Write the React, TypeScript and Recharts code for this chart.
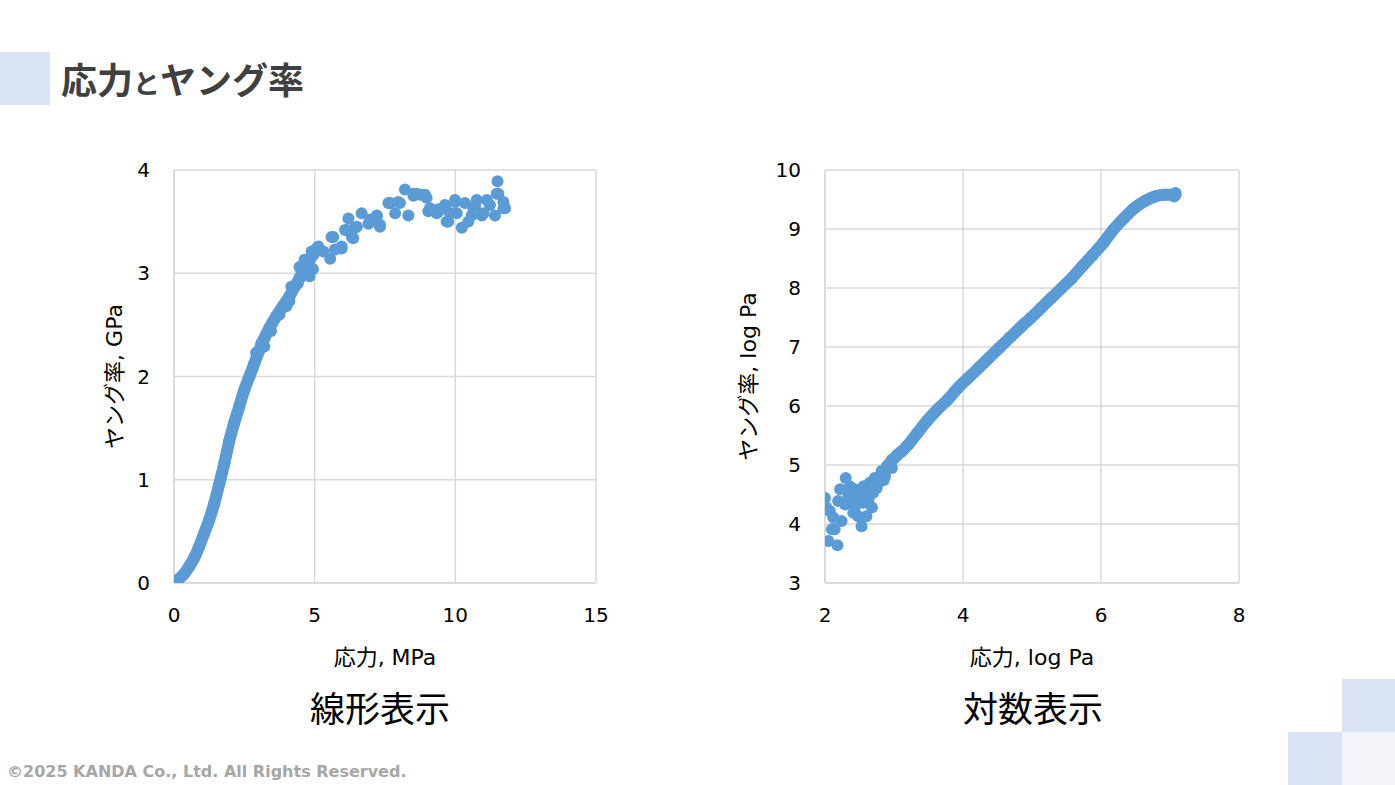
import { ScatterChart, Scatter, XAxis, YAxis, CartesianGrid } from 'recharts'

// values
const linearCurve: [number, number][] = [
  [0, 0], [0.18, 0.04], [0.36, 0.09], [0.54, 0.16], [0.71, 0.24], [0.89, 0.35],
  [1.07, 0.48], [1.25, 0.61], [1.43, 0.77], [1.61, 0.96], [1.79, 1.16], [1.96, 1.37],
  [2.14, 1.55], [2.32, 1.71], [2.5, 1.87], [2.68, 2.0], [2.86, 2.13], [3.04, 2.26],
  [3.21, 2.37], [3.39, 2.47], [3.63, 2.58], [3.87, 2.68], [4.11, 2.78], [4.29, 2.87],
  [4.46, 2.95], [4.64, 3.05], [4.82, 3.13], [5.0, 3.2],
]

const linearScatter: [number, number][] = [
  [2.92, 2.23], [3.1, 2.32], [3.21, 2.29], [3.45, 2.44], [3.75, 2.6], [3.99, 2.68],
  [4.1, 2.73], [4.17, 2.87], [4.4, 2.9], [4.46, 3.06], [4.64, 3.13], [4.82, 2.97],
  [4.94, 3.04], [4.66, 3.13], [4.77, 3.03], [4.89, 3.21], [5.07, 3.24], [5.13, 3.26],
  [5.31, 3.21], [5.55, 3.14], [5.6, 3.35], [5.66, 3.35], [5.72, 3.23], [5.96, 3.24],
  [5.96, 3.26], [6.08, 3.42], [6.14, 3.42], [6.2, 3.53], [6.32, 3.35], [6.37, 3.34],
  [6.43, 3.44], [6.5, 3.45], [6.67, 3.58], [6.91, 3.48], [6.97, 3.52], [7.21, 3.55],
  [7.21, 3.56], [7.32, 3.45], [7.32, 3.47], [7.62, 3.68], [7.68, 3.68], [7.86, 3.58],
  [7.97, 3.69], [8.03, 3.68], [8.21, 3.81], [8.33, 3.56], [8.51, 3.75], [8.51, 3.77],
  [8.63, 3.77], [8.75, 3.76], [8.92, 3.76], [8.98, 3.73], [9.04, 3.6], [9.1, 3.63],
  [9.34, 3.58], [9.4, 3.6], [9.4, 3.62], [9.63, 3.66], [9.63, 3.63], [9.69, 3.5],
  [9.75, 3.5], [9.81, 3.58], [9.99, 3.71], [9.99, 3.69], [10.05, 3.58], [10.23, 3.44],
  [10.34, 3.68], [10.46, 3.5], [10.58, 3.56], [10.63, 3.64], [10.7, 3.65], [10.76, 3.71],
  [10.94, 3.56], [11.0, 3.58], [11.12, 3.71], [11.23, 3.66], [11.41, 3.56], [11.47, 3.77],
  [11.5, 3.89], [11.53, 3.77], [11.71, 3.69], [11.71, 3.63], [11.77, 3.63],
]

const logCurve: [number, number][] = [
  [2.9, 4.98], [3.04, 5.16], [3.11, 5.23], [3.21, 5.35], [3.33, 5.53], [3.48, 5.75],
  [3.63, 5.94], [3.78, 6.11], [3.93, 6.31], [4.08, 6.48], [4.23, 6.65], [4.38, 6.82],
  [4.53, 6.99], [4.68, 7.16], [4.83, 7.33], [4.98, 7.49], [5.13, 7.66], [5.28, 7.83],
  [5.43, 8.0], [5.58, 8.17], [5.73, 8.37], [5.88, 8.56], [6.03, 8.76], [6.18, 8.99],
  [6.33, 9.18], [6.48, 9.35], [6.63, 9.47], [6.78, 9.55], [6.93, 9.58], [7.08, 9.58],
]

const logScatter: [number, number][] = [
  [2.0, 4.44], [2.02, 4.28], [2.07, 4.22], [2.12, 4.11], [2.1, 3.91], [2.14, 3.91],
  [2.05, 3.71], [2.18, 3.64], [2.24, 4.05], [2.22, 4.59], [2.3, 4.78], [2.19, 4.39],
  [2.29, 4.33], [2.36, 4.64], [2.39, 4.42], [2.43, 4.28], [2.41, 4.19], [2.48, 4.13],
  [2.53, 3.96], [2.6, 4.13], [2.51, 4.5], [2.56, 4.64], [2.63, 4.42], [2.68, 4.28],
  [2.7, 4.53], [2.65, 4.7], [2.75, 4.61], [2.72, 4.78], [2.8, 4.75], [2.82, 4.9],
  [2.87, 4.81], [2.97, 4.95], [2.97, 5.09], [2.43, 4.59], [2.34, 4.47], [2.56, 4.36],
  [2.46, 4.4], [2.6, 4.55], [2.76, 4.68], [2.85, 4.74], [7.08, 9.61], [7.06, 9.55],
]

const linearXTicks = [0, 5, 10, 15]
const linearYTicks = [0, 1, 2, 3, 4]
const logXTicks = [2, 4, 6, 8]
const logYTicks = [3, 4, 5, 6, 7, 8, 9, 10]

const toPoints = (pairs: [number, number][]) => pairs.map(([x, y]) => ({ x, y }))

const DOT = '#5B9BD5'
const GRID = '#d9d9d9'
const TICK_FONT = { fill: '#000', fontSize: 20, fontFamily: '"DejaVu Sans", sans-serif' }
const LABEL_FONT = '"DejaVu Sans", "Noto Sans CJK JP", sans-serif'
const bandLine = { strokeWidth: 12, strokeLinecap: 'round', strokeLinejoin: 'round' }

// eslint-disable-next-line @typescript-eslint/no-explicit-any
const dot = (props: any) => <circle cx={props.cx} cy={props.cy} r={6} fill={DOT} />

interface PanelProps {
  left: number
  width: number
  yAxisWidth: number
  marginRight: number
  curve: [number, number][]
  scatter: [number, number][]
  xDomain: [number, number]
  yDomain: [number, number]
  xTicks: number[]
  yTicks: number[]
  xLabel: string
  yLabel: string
}

function Panel(p: PanelProps) {
  return (
    <div style={{ position: 'absolute', left: p.left, top: 150 }}>
      <ScatterChart
        width={p.width}
        height={20 + 413 + 90}
        margin={{ top: 20, right: p.marginRight, bottom: 0, left: 0 }}
      >
        <CartesianGrid stroke={GRID} strokeWidth={1.5} />
        <XAxis
          type="number"
          dataKey="x"
          domain={p.xDomain}
          ticks={p.xTicks}
          allowDataOverflow
          height={90}
          stroke={GRID}
          strokeWidth={1.5}
          tickLine={false}
          tickMargin={19}
          tick={TICK_FONT}
          label={{
            value: p.xLabel,
            position: 'insideBottom',
            offset: 8,
            style: { fontSize: 22, fontFamily: LABEL_FONT, fill: '#000' },
          }}
        />
        <YAxis
          type="number"
          dataKey="y"
          domain={p.yDomain}
          ticks={p.yTicks}
          allowDataOverflow
          width={p.yAxisWidth}
          stroke={GRID}
          strokeWidth={1.5}
          tickLine={false}
          tickMargin={18}
          tick={TICK_FONT}
          label={{
            value: p.yLabel,
            angle: -90,
            position: 'center',
            style: { fontSize: 22, fontFamily: LABEL_FONT, fill: '#000' },
          }}
        />
        <Scatter
          data={toPoints(p.curve)}
          fill={DOT}
          shape={dot}
          line={bandLine}
          lineJointType="monotoneX"
          isAnimationActive={false}
        />
        <Scatter data={toPoints(p.scatter)} fill={DOT} shape={dot} isAnimationActive={false} />
      </ScatterChart>
    </div>
  )
}

const caption = {
  position: 'absolute' as const,
  top: 684,
  width: 200,
  textAlign: 'center' as const,
  fontFamily: '"Noto Sans CJK JP", sans-serif',
  fontSize: 35,
  lineHeight: '46px',
  color: '#000',
}

export default function App() {
  return (
    <div
      style={{
        position: 'absolute',
        left: 0,
        top: 0,
        width: 1395,
        height: 785,
        background: '#fff',
        overflow: 'hidden',
      }}
    >
      {/* title */}
      <div style={{ position: 'absolute', left: 0, top: 52, width: 50, height: 53, background: '#dae3f3' }} />
      <div
        style={{
          position: 'absolute',
          left: 61,
          top: 53,
          fontFamily: '"Noto Sans CJK JP", sans-serif',
          fontWeight: 700,
          fontSize: 36,
          lineHeight: '50px',
          color: '#404040',
          whiteSpace: 'nowrap',
        }}
      >
        応力<span style={{ fontSize: 27 }}>と</span>ヤング率
      </div>

      <Panel
        left={54}
        width={576}
        yAxisWidth={120}
        marginRight={34}
        curve={linearCurve}
        scatter={linearScatter}
        xDomain={[0, 15]}
        yDomain={[0, 4]}
        xTicks={linearXTicks}
        yTicks={linearYTicks}
        xLabel="応力, MPa"
        yLabel="ヤング率, GPa"
      />
      <Panel
        left={671}
        width={598}
        yAxisWidth={154}
        marginRight={30}
        curve={logCurve}
        scatter={logScatter}
        xDomain={[2, 8]}
        yDomain={[3, 10]}
        xTicks={logXTicks}
        yTicks={logYTicks}
        xLabel="応力, log Pa"
        yLabel="ヤング率, log Pa"
      />

      <div style={{ ...caption, left: 280 }}>線形表示</div>
      <div style={{ ...caption, left: 933 }}>対数表示</div>

      {/* footer */}
      <div
        style={{
          position: 'absolute',
          left: 7,
          top: 761,
          fontFamily: '"DejaVu Sans", sans-serif',
          fontWeight: 700,
          fontSize: 16,
          lineHeight: '22px',
          color: '#a6a6a6',
          whiteSpace: 'nowrap',
        }}
      >
        ©2025 KANDA Co., Ltd. All Rights Reserved.
      </div>
      <div style={{ position: 'absolute', left: 1342, top: 679, width: 53, height: 53, background: '#dae3f3' }} />
      <div style={{ position: 'absolute', left: 1288, top: 732, width: 54, height: 53, background: '#dae3f3' }} />
      <div style={{ position: 'absolute', left: 1342, top: 732, width: 53, height: 53, background: '#f3f5fb' }} />
    </div>
  )
}
